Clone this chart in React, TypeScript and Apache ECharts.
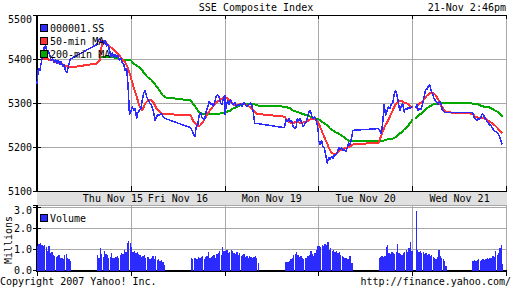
import React, { useEffect, useRef } from "react";
import * as echarts from "echarts";

// ---- labels ----
const titleText = "SSE Composite Index";
const quoteText = "21-Nov 2:46pm";
const dayLabels = ["Thu Nov 15", "Fri Nov 16", "Mon Nov 19", "Tue Nov 20", "Wed Nov 21"];
const seriesNames = ["000001.SS", "50-min MA", "200-min MA"];
const volumeName = "Volume";

// ---- session clock (minutes after 9:30; lunch 11:30-13:00; close 15:00) ----
const SESSION_MIN = 330;
const LUNCH_END = 210;
const QUOTE_DAY = 4;
const QUOTE_MIN = 316; // 2:46pm

// ---- price, 5-min samples (25 morning + 25 afternoon per day) ----
const priceThu = [5345, 5380, 5375, 5393, 5409, 5427, 5432, 5416, 5420, 5409, 5398, 5402, 5393, 5400, 5391, 5398, 5389, 5395, 5384, 5389, 5375, 5370, 5382, 5398, 5402,
  5434, 5443, 5448, 5439, 5443, 5436, 5443, 5430, 5434, 5420, 5407, 5416, 5405, 5411, 5405, 5409, 5398, 5402, 5391, 5389, 5375, 5380, 5341, 5273, 5284];
const priceFri = [5280, 5293, 5284, 5289, 5266, 5280, 5284, 5289, 5307, 5323, 5330, 5316, 5309, 5302, 5298, 5291, 5280, 5261, 5270, 5275, 5273, 5277, 5275, 5268, 5266,
  5245, 5239, 5230, 5225, 5248, 5252, 5273, 5280, 5268, 5264, 5266, 5284, 5291, 5305, 5298, 5300, 5293, 5305, 5318, 5320, 5314, 5302, 5298, 5311, 5320];
const priceMon = [5273, 5295, 5307, 5298, 5309, 5300, 5298, 5302, 5293, 5298, 5295, 5300, 5293, 5300, 5302, 5295, 5293, 5298, 5302, 5295, 5280, 5255, 5254, 5254, 5254,
  5245, 5264, 5259, 5266, 5259, 5261, 5248, 5243, 5245, 5266, 5261, 5266, 5257, 5248, 5252, 5257, 5268, 5280, 5284, 5273, 5266, 5270, 5264, 5252, 5227];
const priceTue = [5216, 5207, 5216, 5202, 5198, 5182, 5164, 5177, 5173, 5180, 5175, 5182, 5184, 5189, 5200, 5195, 5200, 5193, 5195, 5191, 5198, 5211, 5205, 5220, 5239,
  5243, 5239, 5230, 5257, 5298, 5273, 5282, 5293, 5289, 5298, 5300, 5320, 5330, 5320, 5302, 5284, 5293, 5300, 5280, 5289, 5286, 5291, 5289, 5291, 5295];
const priceWed = [null, null, 5289, 5298, 5284, 5289, 5286, 5298, 5314, 5330, 5332, 5339, 5343, 5330, 5323, 5311, 5307, 5302, 5298, 5305, 5300, 5284, 5282, 5280, 5280,
  5280, 5270, 5266, 5261, 5266, 5264, 5268, 5277, 5273, 5266, 5261, 5257, 5252, 5250, 5245, 5239, 5236, 5236, 5232, 5225, 5216, 5207];

// ---- 50-min MA, 10-min samples (13 + 13 per day) ----
const ma50Thu = [null, null, 5402, 5402, 5400, 5398, 5398, 5393, 5391, 5389, 5386, 5384, 5382,
  5391, 5398, 5443, 5441, 5432, 5427, 5423, 5416, 5409, 5400, 5393, 5380, 5359];
const ma50Fri = [5359, 5336, 5316, 5295, 5284, 5300, 5307, 5309, 5302, 5289, 5282, 5277, 5276,
  5273, 5259, 5252, 5248, 5255, 5266, 5277, 5286, 5295, 5302, 5307, 5311, 5314];
const ma50Mon = [5314, 5311, 5305, 5298, 5295, 5298, 5300, 5298, 5295, 5291, 5286, 5277, 5276,
  5270, 5261, 5257, 5255, 5259, 5257, 5255, 5259, 5259, 5264, 5264, 5264, 5255];
const ma50Tue = [5255, 5239, 5223, 5209, 5193, 5186, 5186, 5191, 5195, 5198, 5200, 5202, 5207,
  5211, 5227, 5245, 5257, 5270, 5284, 5298, 5305, 5307, 5302, 5300, 5295, 5291];
const ma50Wed = [null, 5289, 5298, 5302, 5309, 5318, 5323, 5325, 5320, 5309, 5295, 5286, 5280,
  5277, 5270, 5268, 5268, 5266, 5264, 5259, 5255, 5250, 5243, 5236, 5232];

// ---- 200-min MA, 10-min samples ----
const ma200Thu = [null, null, null, null, null, null, null, null, null, null, null, null, null,
  null, 5405, 5405, 5405, 5405, 5405, 5405, 5403, 5402, 5400, 5400, 5399, 5398];
const ma200Fri = [5398, 5391, 5386, 5382, 5375, 5366, 5359, 5355, 5348, 5339, 5330, 5320, 5314,
  5307, 5298, 5289, 5280, 5277, 5277, 5277, 5277, 5277, 5277, 5277, 5278, 5280];
const ma200Mon = [5280, 5282, 5284, 5289, 5291, 5295, 5298, 5300, 5300, 5300, 5299, 5297, 5295,
  5293, 5291, 5289, 5284, 5282, 5280, 5277, 5275, 5273, 5270, 5268, 5266, 5264];
const ma200Tue = [5264, 5259, 5255, 5250, 5243, 5239, 5234, 5232, 5227, 5223, 5218, 5214, 5214,
  5214, 5215, 5216, 5218, 5220, 5220, 5223, 5230, 5234, 5241, 5245, 5255, 5264];
const ma200Wed = [null, 5266, 5273, 5277, 5282, 5289, 5293, 5297, 5300, 5300, 5301, 5301, 5301,
  5300, 5298, 5298, 5295, 5293, 5292, 5291, 5288, 5284, 5281, 5275, 5270];

// ---- volume (millions), 5-min bars (24 + 24 per day) ----
const volThu = [1.15, 1.25, 1.3, 1.2, 1.15, 1.2, 1.1, 0.95, 1.15, 0.85, 0.9, 0.75, 0.7, 0.65, 0.7, 0.75, 0.6, 0.6, 0.55, 0.75, 0.8, 0.6, 0.55, 0.45,
  0.75, 0.6, 1.05, 0.8, 0.65, 0.95, 0.8, 0.75, 0.6, 0.65, 0.85, 0.6, 0.6, 0.65, 0.7, 0.6, 0.75, 0.85, 0.8, 1.0, 0.9, 1.3, 1.4, 1.3];
const volFri = [1.1, 0.9, 0.95, 0.85, 0.9, 0.8, 0.75, 0.65, 0.7, 0.75, 0.6, 0.65, 0.65, 0.55, 0.6, 0.7, 0.55, 0.7, 0.5, 0.55, 0.45, 0.5, 0.4, 0.25,
  0.6, 0.55, 0.6, 0.6, 0.55, 0.65, 0.6, 0.65, 0.7, 0.55, 0.65, 0.7, 0.9, 0.6, 0.65, 0.7, 0.75, 0.6, 0.8, 0.85, 0.95, 0.75, 1.1, 0.95];
const volMon = [0.95, 1.0, 0.85, 0.9, 1.0, 0.95, 0.85, 0.8, 0.9, 0.75, 0.85, 0.7, 0.75, 0.8, 0.65, 0.7, 0.6, 0.7, 0.65, 0.6, 0.65, 0.7, 0.6, 0.35,
  0.4, 0.4, 0.4, 0.45, 0.55, 0.6, 0.75, 0.8, 0.9, 0.75, 0.65, 0.7, 0.6, 0.55, 0.6, 0.6, 0.7, 0.75, 0.95, 0.8, 0.7, 0.85, 1.0, 1.15];
const volTue = [1.15, 1.1, 1.2, 1.15, 1.25, 1.2, 1.35, 1.0, 1.05, 0.95, 1.0, 0.9, 0.95, 0.85, 0.9, 0.75, 0.7, 0.65, 0.6, 0.6, 0.55, 0.7, 0.7, 0.35,
  0.6, 0.65, 0.7, 0.65, 0.7, 1.1, 1.2, 0.85, 0.8, 0.9, 0.85, 0.8, 0.9, 1.25, 0.85, 0.8, 0.75, 0.85, 0.9, 1.0, 0.9, 1.05, 1.35, 0.95];
const volWed = [null, null, 2.85, 1.0, 0.9, 0.95, 0.85, 0.9, 0.8, 0.85, 0.75, 0.8, 0.7, 0.75, 0.65, 0.6, 0.55, 0.65, 1.0, 0.7, 0.6, 0.55, 0.45, 0.2,
  0.45, 0.5, 0.45, 0.5, 0.55, 0.45, 0.5, 0.55, 0.5, 0.55, 0.6, 0.55, 0.6, 0.6, 0.7, 0.65, 0.95, 0.75, 0.85, 1.05, 1.2, 0.3];

const priceDays = [priceThu, priceFri, priceMon, priceTue, priceWed];
const ma50Days = [ma50Thu, ma50Fri, ma50Mon, ma50Tue, ma50Wed];
const ma200Days = [ma200Thu, ma200Fri, ma200Mon, ma200Tue, ma200Wed];
const volDays = [volThu, volFri, volMon, volTue, volWed];

const FONT = '"DejaVu Sans Mono", monospace';
const BLUE = "#2b2bff";
const RED = "#ff3333";
const GREEN = "#00a800";
const GRID = "#a8a8a8";

function dayPos(day: number, minute: number) {
  const m = day === QUOTE_DAY ? Math.min(minute, QUOTE_MIN) : minute;
  return day + m / SESSION_MIN;
}

function build(days: (number | null)[][], step: number, offset: number) {
  const perSession = Math.round(120 / step) + (offset === 0 ? 1 : 0);
  const out: any[] = [];
  days.forEach((vals, d) => {
    vals.forEach((v, i) => {
      const minute = i < perSession ? i * step + offset : LUNCH_END + (i - perSession) * step + offset;
      out.push([dayPos(d, minute), v == null ? null : v]);
    });
  });
  return out;
}

export default function App() {
  const ref = useRef<HTMLDivElement>(null);
  useEffect(() => {
    if (!ref.current) return;
    const chart = echarts.init(ref.current, undefined, { renderer: "svg" });
    const txt = (text: string, x: number, y: number, align = "left", extra: any = {}) => ({
      type: "text", x, y, z: 100, ...extra,
      style: { text, fill: "#000", font: `10px ${FONT}`, align, verticalAlign: "middle" },
    });
    const sq = (x: number, y: number, color: string) => ({
      type: "rect", z: 100, shape: { x, y, width: 7, height: 7 },
      style: { fill: color, stroke: "#000", lineWidth: 1 },
    });
    const mainLeft = 37, mainWidth = 469.5;
    const dayW = mainWidth / dayLabels.length;
    const dayTexts = dayLabels.map((d, i) =>
      txt(d, mainLeft + (i + 0.5) * dayW + (i === 0 ? 29 : 0), 198.5, "center"));
    const option: any = {
      animation: false,
      backgroundColor: "#fff",
      grid: [
        { left: mainLeft, top: 15.5, width: mainWidth, height: 176, show: true, borderColor: "#000", borderWidth: 1, backgroundColor: "transparent" },
        { left: mainLeft, top: 205.5, width: mainWidth, height: 65, show: true, borderColor: "#000", borderWidth: 1, backgroundColor: "transparent" },
      ],
      xAxis: [
        { type: "value", gridIndex: 0, min: 0, max: 5, interval: 1, position: "bottom",
          axisLine: { show: true, lineStyle: { color: "#000", width: 1 } },
          axisTick: { show: true, inside: true, length: 6, lineStyle: { color: "#000" } },
          axisLabel: { show: false }, splitLine: { show: true, lineStyle: { color: GRID, width: 1 } } },
        { type: "value", gridIndex: 0, min: 0, max: 5, interval: 1, position: "top",
          axisLine: { show: true, lineStyle: { color: "#000" } },
          axisTick: { show: true, inside: true, length: 3, lineStyle: { color: "#000" } },
          axisLabel: { show: false }, splitLine: { show: false } },
        { type: "value", gridIndex: 1, min: 0, max: 5, interval: 1, position: "bottom",
          axisLine: { show: true, lineStyle: { color: "#000", width: 1.5 } },
          axisTick: { show: false }, axisLabel: { show: false },
          splitLine: { show: true, lineStyle: { color: GRID, width: 1 } } },
        { type: "value", gridIndex: 1, min: 0, max: 5, interval: 1, position: "top",
          axisLine: { show: true, lineStyle: { color: "#000" } },
          axisTick: { show: true, inside: true, length: 5, lineStyle: { color: "#000" } },
          axisLabel: { show: false }, splitLine: { show: false } },
      ],
      yAxis: [
        { type: "value", gridIndex: 0, min: 5100, max: 5500, interval: 100, position: "left",
          axisLine: { show: true, lineStyle: { color: "#000", width: 2 } },
          axisTick: { show: true, inside: true, length: 4, lineStyle: { color: "#000" } },
          axisLabel: { margin: 5, color: "#000", fontFamily: FONT, fontSize: 10,
            formatter: (v: number) => (v === 5500 ? `{top|${v}}` : `${v}`),
            rich: { top: { padding: [8, 0, 0, 0], fontFamily: FONT, fontSize: 10, color: "#000" } } },
          splitLine: { show: true, lineStyle: { color: GRID, width: 1 } } },
        { type: "value", gridIndex: 0, min: 5100, max: 5500, interval: 100, position: "right",
          axisLine: { show: true, lineStyle: { color: "#000" } },
          axisTick: { show: true, inside: true, length: 4, lineStyle: { color: "#000" } },
          axisLabel: { show: false }, splitLine: { show: false } },
        { type: "value", gridIndex: 1, min: 0, max: 3.1, interval: 1, position: "left",
          axisLine: { show: true, lineStyle: { color: "#000", width: 2 } },
          axisTick: { show: true, inside: true, length: 4, lineStyle: { color: "#000" } },
          axisLabel: { margin: 5, color: "#000", fontFamily: FONT, fontSize: 10,
            formatter: (v: number) => (v === 3 ? `{top|${v.toFixed(1)}}` : v.toFixed(1)),
            rich: { top: { padding: [5, 0, 0, 0], fontFamily: FONT, fontSize: 10, color: "#000" } } },
          splitLine: { show: true, lineStyle: { color: GRID, width: 1 } } },
        { type: "value", gridIndex: 1, min: 0, max: 3.1, interval: 1, position: "right",
          axisLine: { show: true, lineStyle: { color: "#000" } },
          axisTick: { show: true, inside: true, length: 4, lineStyle: { color: "#000" } },
          axisLabel: { show: false }, splitLine: { show: false } },
      ],
      series: [
        { name: seriesNames[2], type: "line", xAxisIndex: 0, yAxisIndex: 0, data: build(ma200Days, 10, 0),
          showSymbol: false, connectNulls: false, lineStyle: { color: GREEN, width: 2 }, z: 3 },
        { name: seriesNames[1], type: "line", xAxisIndex: 0, yAxisIndex: 0, data: build(ma50Days, 10, 0),
          showSymbol: false, connectNulls: false, lineStyle: { color: RED, width: 2 }, z: 4 },
        { name: seriesNames[0], type: "line", xAxisIndex: 0, yAxisIndex: 0, data: build(priceDays, 5, 0),
          showSymbol: false, connectNulls: false, lineStyle: { color: BLUE, width: 1.5 }, z: 5 },
        { name: volumeName, type: "bar", xAxisIndex: 2, yAxisIndex: 2, data: build(volDays, 5, 2.5),
          barWidth: 1.3, itemStyle: { color: BLUE }, z: 3 },
      ],
      graphic: [
        { type: "rect", z: -10, silent: true, shape: { x: mainLeft, y: 191.5, width: mainWidth, height: 14 }, style: { fill: "#e0e0e0" } },
        ...dayTexts,
        txt(titleText, 256, 7, "center"),
        txt(quoteText, 506, 7, "right"),
        sq(40.5, 24.5, BLUE), txt(seriesNames[0], 50, 28),
        sq(40.5, 37.5, RED), txt(seriesNames[1], 50, 41),
        sq(40.5, 50.5, GREEN), txt(seriesNames[2], 50, 54),
        sq(40.5, 214.5, BLUE), txt(volumeName, 50, 218.5),
        txt("Millions", 8, 240, "center", { rotation: Math.PI / 2 }),
        txt("Copyright 2007 Yahoo! Inc.", 0, 281),
        txt("http://finance.yahoo.com/", 511, 281, "right"),
      ],
    };
    chart.setOption(option);
    return () => chart.dispose();
  }, []);
  return (
    <>
      <style>{`.chartbox svg path { shape-rendering: crispEdges; }`}</style>
      <div ref={ref} className="chartbox" style={{ position: "absolute", left: 0, top: 0, width: 512, height: 288, background: "#fff" }} />
    </>
  );
}
